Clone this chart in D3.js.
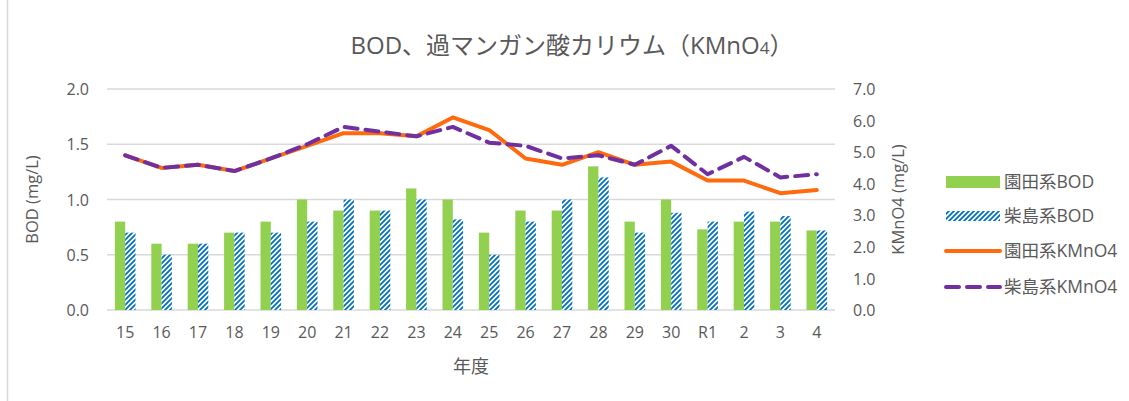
<!DOCTYPE html>
<html>
<head>
<meta charset="utf-8">
<script src="https://cdn.jsdelivr.net/npm/d3@7"></script>
<style>
  body { margin: 0; background: #fff; }
  text { font-family: "Open Sans", "Noto Sans CJK JP", sans-serif; fill: #595959; }
</style>
</head>
<body>
<svg id="chart" width="1129" height="401"></svg>
<script>
const years = ["15", "16", "17", "18", "19", "20", "21", "22", "23", "24", "25", "26", "27", "28", "29", "30", "R1", "2", "3", "4"];
const sonodaBOD = [0.8, 0.6, 0.6, 0.7, 0.8, 1.0, 0.9, 0.9, 1.1, 1.0, 0.7, 0.9, 0.9, 1.3, 0.8, 1.0, 0.73, 0.8, 0.8, 0.72];
const kunijimaBOD = [0.7, 0.5, 0.6, 0.7, 0.7, 0.8, 1.0, 0.9, 1.0, 0.82, 0.5, 0.8, 1.0, 1.2, 0.7, 0.88, 0.8, 0.89, 0.85, 0.72];
const sonodaKMnO4 = [4.9, 4.5, 4.6, 4.4, 4.8, 5.2, 5.6, 5.6, 5.5, 6.1, 5.7, 4.8, 4.6, 5.0, 4.6, 4.7, 4.1, 4.1, 3.7, 3.8];
const kunijimaKMnO4 = [4.9, 4.5, 4.6, 4.4, 4.8, 5.25, 5.8, 5.65, 5.5, 5.8, 5.3, 5.2, 4.8, 4.9, 4.6, 5.2, 4.3, 4.85, 4.2, 4.3];
const leftTicks = [0, 0.5, 1.0, 1.5, 2.0];
const rightTicks = [0, 1, 2, 3, 4, 5, 6, 7];
const legendNames = ["園田系BOD", "柴島系BOD", "園田系KMnO4", "柴島系KMnO4"];

const green = "#92D050", blue = "#0070C0", orange = "#FF6A0E", purple = "#7030A0";

const svg = d3.select("#chart");
const plot = { left: 107, right: 835, top: 89, bottom: 310 };

// chart area edge on the left
svg.append("line")
    .attr("x1", 7.5).attr("x2", 7.5).attr("y1", 0).attr("y2", 401)
    .attr("stroke", "#d9d9d9").attr("stroke-width", 1.5);

// hatch pattern for 柴島系BOD
const defs = svg.append("defs");
const pat = defs.append("pattern")
    .attr("id", "hatch")
    .attr("patternUnits", "userSpaceOnUse")
    .attr("width", 5).attr("height", 5);
pat.append("rect").attr("width", 5).attr("height", 5).attr("fill", "#fff");
pat.append("path")
    .attr("d", "M-1,1 l2,-2 M0,5 l5,-5 M4,6 l2,-2")
    .attr("stroke", blue).attr("stroke-width", 1.8);

const x = d3.scaleBand()
    .domain(years)
    .range([plot.left, plot.right]);

const yL = d3.scaleLinear().domain([0, 2]).range([plot.bottom, plot.top]);
const yR = d3.scaleLinear().domain([0, 7]).range([plot.bottom, plot.top]);

// gridlines
svg.append("g").selectAll("line").data(leftTicks).enter().append("line")
    .attr("x1", plot.left).attr("x2", plot.right)
    .attr("y1", d => yL(d)).attr("y2", d => yL(d))
    .attr("stroke", "#d9d9d9").attr("stroke-width", 1.3);

// left axis
const leftAxis = svg.append("g")
    .attr("transform", `translate(${plot.left - 15}, 0)`)
    .call(d3.axisLeft(yL).tickValues(leftTicks).tickFormat(d3.format(".1f")).tickSize(0));
leftAxis.select(".domain").remove();
leftAxis.selectAll("text").attr("font-size", "16px").attr("fill", "#595959").attr("dy", "0.35em");

// right axis
const rightAxis = svg.append("g")
    .attr("transform", `translate(${plot.right + 15}, 0)`)
    .call(d3.axisRight(yR).tickValues(rightTicks).tickFormat(d3.format(".1f")).tickSize(0));
rightAxis.select(".domain").remove();
rightAxis.selectAll("text").attr("font-size", "16px").attr("fill", "#595959").attr("dy", "0.35em");

// x axis labels
const xAxis = svg.append("g")
    .attr("transform", `translate(0, ${plot.bottom + 14})`)
    .call(d3.axisBottom(x).tickSize(0));
xAxis.select(".domain").remove();
xAxis.selectAll("text").attr("font-size", "16px").attr("fill", "#595959").attr("dy", "0.71em");

const barW = 10.3;

// bars
svg.append("g").selectAll("rect").data(sonodaBOD).enter().append("rect")
    .attr("x", (d, i) => x(years[i]) + x.bandwidth() / 2 - barW)
    .attr("y", d => yL(d))
    .attr("width", barW)
    .attr("height", d => yL(0) - yL(d))
    .attr("fill", green);

svg.append("g").selectAll("rect").data(kunijimaBOD).enter().append("rect")
    .attr("x", (d, i) => x(years[i]) + x.bandwidth() / 2)
    .attr("y", d => yL(d))
    .attr("width", barW)
    .attr("height", d => yL(0) - yL(d))
    .attr("fill", "url(#hatch)");

// lines
const line = d3.line()
    .x((d, i) => x(years[i]) + x.bandwidth() / 2)
    .y(d => yR(d));

svg.append("path").datum(sonodaKMnO4)
    .attr("d", line)
    .attr("fill", "none")
    .attr("stroke", orange).attr("stroke-width", 4)
    .attr("stroke-linejoin", "round").attr("stroke-linecap", "round");

svg.append("path").datum(kunijimaKMnO4)
    .attr("d", line)
    .attr("fill", "none")
    .attr("stroke", purple).attr("stroke-width", 4)
    .attr("stroke-dasharray", "13,8")
    .attr("stroke-linejoin", "round").attr("stroke-linecap", "round");

// title
const title = svg.append("text")
    .attr("x", 572).attr("y", 54)
    .attr("text-anchor", "middle")
    .attr("font-size", "24px");
title.append("tspan").text("BOD、過マンガン酸カリウム（KMnO");
title.append("tspan").attr("font-size", "17px").text("4");
title.append("tspan").text("）");

// axis titles
svg.append("text")
    .attr("transform", `translate(38, ${(plot.top + plot.bottom) / 2}) rotate(-90)`)
    .attr("text-anchor", "middle")
    .attr("font-size", "16.5px")
    .text("BOD (mg/L)");

svg.append("text")
    .attr("transform", `translate(904, ${(plot.top + plot.bottom) / 2}) rotate(-90)`)
    .attr("text-anchor", "middle")
    .attr("font-size", "16.5px")
    .text("KMnO4 (mg/L)");

svg.append("text")
    .attr("x", (plot.left + plot.right) / 2).attr("y", 373)
    .attr("text-anchor", "middle")
    .attr("font-size", "18px")
    .text("年度");

// legend
const legendY = [182, 216, 251, 287];
const lg = svg.append("g");
legendNames.forEach((name, i) => {
    const y = legendY[i];
    if (i === 0) {
        lg.append("rect").attr("x", 946).attr("y", y - 6).attr("width", 54).attr("height", 12).attr("fill", green);
    } else if (i === 1) {
        lg.append("rect").attr("x", 946).attr("y", y - 5).attr("width", 54).attr("height", 10).attr("fill", "url(#hatch)");
    } else {
        lg.append("line").attr("x1", 946).attr("x2", 1000).attr("y1", y).attr("y2", y)
            .attr("stroke", i === 2 ? orange : purple).attr("stroke-width", 4)
            .attr("stroke-linecap", "round")
            .attr("stroke-dasharray", i === 3 ? "13,8" : null);
    }
    lg.append("text").attr("x", 1004).attr("y", y).attr("dy", "0.35em")
        .attr("font-size", "17.5px").text(name);
});
</script>
</body>
</html>
